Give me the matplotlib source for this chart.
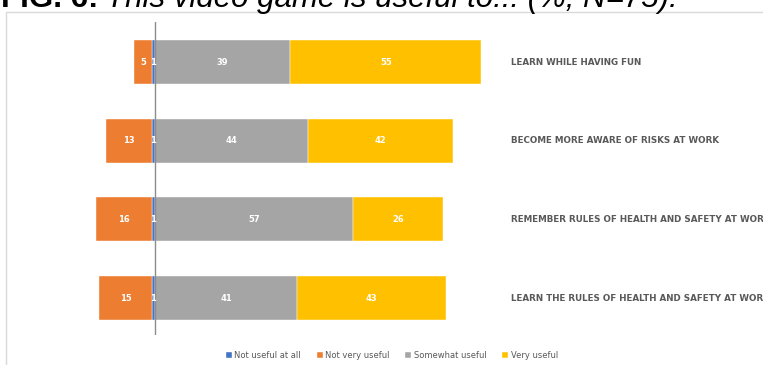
import matplotlib
matplotlib.use("Agg")
import matplotlib.pyplot as plt
from matplotlib.patches import Rectangle

# data (percent, N=75), rows from top to bottom
categories = ["LEARN WHILE HAVING FUN",
              "BECOME MORE AWARE OF RISKS AT WORK",
              "REMEMBER RULES OF HEALTH AND SAFETY AT WORK",
              "LEARN THE RULES OF HEALTH AND SAFETY AT WORK"]
not_useful_at_all = [1, 1, 1, 1]
not_very_useful = [5, 13, 16, 15]
somewhat_useful = [39, 44, 57, 41]
very_useful = [55, 42, 26, 43]

series_names = ["Not useful at all", "Not very useful", "Somewhat useful", "Very useful"]
colors = ["#4472C4", "#ED7D31", "#A5A5A5", "#FFC000"]

W, H = 763, 365
fig = plt.figure(figsize=(W / 100, H / 100), dpi=100)

# light frame around the chart area
fig.patches.append(Rectangle((6 / W, -0.1), 1.2, 1 - 12 / H + 0.1,
                             transform=fig.transFigure, fill=False,
                             edgecolor="#d9d9d9", lw=1))

ax = fig.add_axes([16.2 / W, 30 / H, 485.8 / W, 313 / H])
ax.set_xlim(-40, 100)
ax.set_ylim(-0.47, 3.51)

ypos = [3, 2, 1, 0]
h = 0.56
bar_kw = dict(height=h, edgecolor="white", linewidth=0.3)

# negative side: blue next to zero, orange further out
left_blue = [-v for v in not_useful_at_all]
left_orange = [-(a + b) for a, b in zip(not_useful_at_all, not_very_useful)]
b1 = ax.barh(ypos, not_useful_at_all, left=left_blue, color=colors[0], label=series_names[0], **bar_kw)
b2 = ax.barh(ypos, not_very_useful, left=left_orange, color=colors[1], label=series_names[1], **bar_kw)
b3 = ax.barh(ypos, somewhat_useful, left=0, color=colors[2], label=series_names[2], **bar_kw)
b4 = ax.barh(ypos, very_useful, left=somewhat_useful, color=colors[3], label=series_names[3], **bar_kw)

for bars, vals in [(b1, not_useful_at_all), (b2, not_very_useful),
                   (b3, somewhat_useful), (b4, very_useful)]:
    for rect, v in zip(bars, vals):
        cx = rect.get_x() + rect.get_width() / 2
        cy = rect.get_y() + rect.get_height() / 2
        ax.text(cx, cy, str(v), ha="center", va="center", color="white",
                fontsize=6, fontweight="bold")

ax.axvline(0, color="#8c8c8c", lw=1)

for y, cat in zip(ypos, categories):
    ax.text(102.6, y, cat, ha="left", va="center", color="#595959",
            fontsize=6.3, fontweight="bold", clip_on=False)

for s in ax.spines.values():
    s.set_visible(False)
ax.set_xticks([])
ax.set_yticks([])

fig.legend(handles=[b1, b2, b3, b4], labels=series_names, loc="center",
           bbox_to_anchor=(392 / W, 1 - 355 / H), ncol=4, frameon=False,
           fontsize=6, handlelength=0.7, handleheight=0.7, handletextpad=0.3,
           columnspacing=1.9, labelcolor="#595959")

# title, cut off at the top edge as in the reference
t1 = fig.text(1 / W, 1 - 7 / H, "FIG. 6:", ha="left", va="baseline",
              fontsize=22.5, fontweight="bold", family="Liberation Sans")
fig.canvas.draw()
bb = t1.get_window_extent(fig.canvas.get_renderer())
fig.text(bb.x1 / W + 8 / W, 1 - 7 / H, "This video game is useful to... (%, N=75).",
         ha="left", va="baseline", fontsize=22.5, fontstyle="italic",
         family="Liberation Sans")

fig.savefig("out.png", dpi=100)
